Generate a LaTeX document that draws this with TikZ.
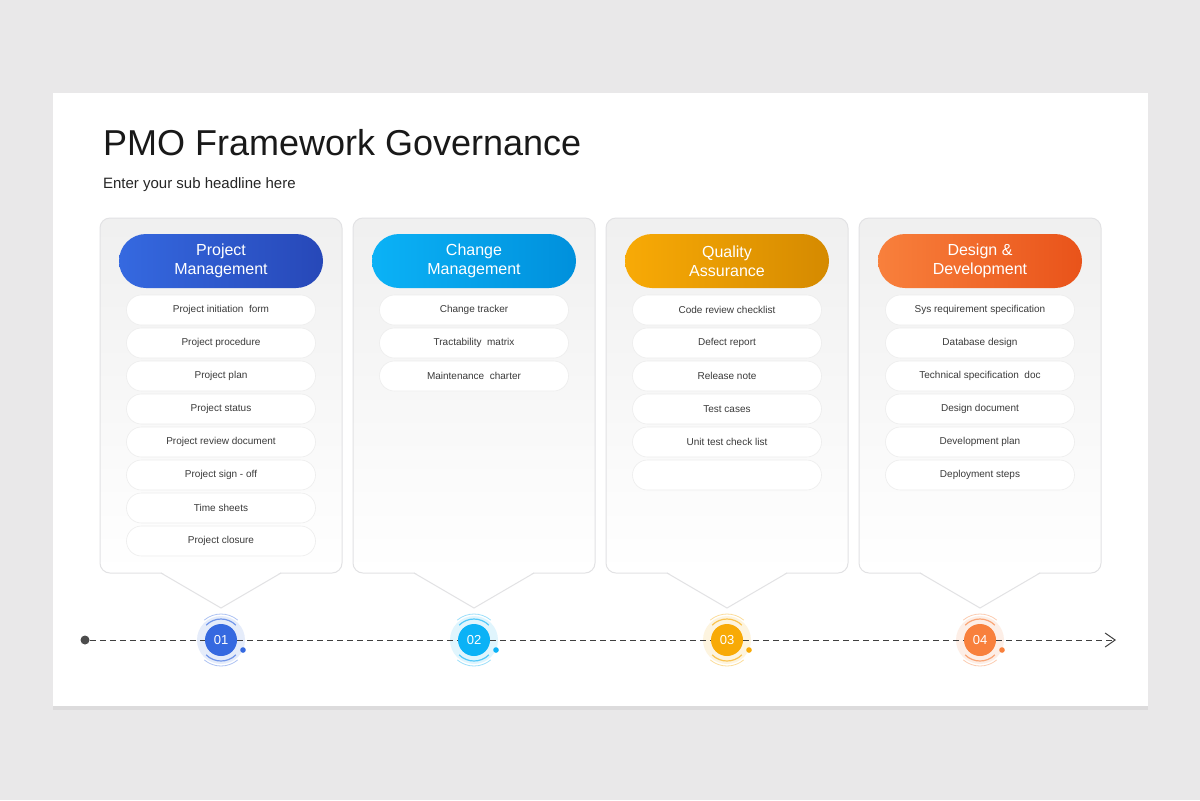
\documentclass[tikz,border=0pt]{standalone}
\usepackage{fontspec}
\setmainfont{Liberation Sans}
\usetikzlibrary{positioning, arrows.meta, shadows}
\definecolor{pageback}{HTML}{E9E8E9}
\definecolor{panelline}{HTML}{E2E2E4}
\definecolor{itemtext}{HTML}{3A3A3A}
\definecolor{bluea}{HTML}{3569E0}\definecolor{blueb}{HTML}{2748B8}
\definecolor{cyana}{HTML}{0BB2F6}\definecolor{cyanb}{HTML}{0090DC}
\definecolor{orga}{HTML}{F8AA06}\definecolor{orgb}{HTML}{D58A00}
\definecolor{reda}{HTML}{F8803C}\definecolor{redb}{HTML}{E9531A}
\tikzstyle{panel} = [draw=panelline, line width=0.5pt, top color=white!94!black, bottom color=white, rounded corners=5pt]
\tikzstyle{header} = [rectangle, rounded corners=13.5pt, minimum width=102pt, minimum height=27pt, text=white, align=center, font=\fontsize{8}{9.5}\selectfont]
\tikzstyle{item} = [rectangle, rounded corners=7.5pt, fill=white, draw=white!93!black, line width=0.3pt, minimum width=94.5pt, minimum height=15pt, text=itemtext, font=\fontsize{5}{6}\selectfont]
\tikzstyle{stepdot} = [circle, minimum size=16pt, inner sep=0pt, text=white, font=\fontsize{6.5}{7}\selectfont]
\tikzstyle{timeline} = [dashed, dash pattern=on 3pt off 2pt, line width=0.5pt, black!75]
\begin{document}
\begin{tikzpicture}[x=0.5pt, y=-0.5pt]
    \useasboundingbox (0,0) rectangle (1200,800);
    \fill [pageback] (0,0) rectangle (1200,800);
    \fill [white, drop shadow={opacity=0.12, shadow xshift=0pt, shadow yshift=-2pt}] (53,93) rectangle (1148,706);

    \node (title) [anchor=base west, font=\fontsize{18}{21}\selectfont, text=black!90] at (96,155) {PMO Framework Governance};
    \node (subtitle) [anchor=base west, font=\fontsize{7.5}{9}\selectfont, text=black!85] at (96,188) {Enter your sub headline here};

    % panels with pointers
    \foreach \x/\ca/\cb/\num/\head [count=\i] in {221/bluea/blueb/01/{Project\\Management},
                                                    474/cyana/cyanb/02/{Change\\Management},
                                                    727/orga/orgb/03/{Quality\\Assurance},
                                                    980/reda/redb/04/{Design \&\\Development}} {
        \draw [panel] (\x-121,218) rectangle (\x+121,573);
        \fill [white] (\x-60,572) -- (\x,608) -- (\x+60,572) -- cycle;
        \draw [panelline, line width=0.5pt] (\x-60,573) -- (\x,608) -- (\x+60,573);
        \node (head\i) [header, left color=\ca, right color=\cb] at (\x,261) {\head};
        \fill [\ca!25, opacity=0.5] (\x,640) circle (12pt);
        \draw [\ca!70, line width=0.6pt] (\x,640) ++(45:21) arc (45:135:21);
        \draw [\ca!70, line width=0.6pt] (\x,640) ++(225:21) arc (225:315:21);
        \draw [\ca!40, line width=0.4pt] (\x,640) ++(50:26) arc (50:130:26);
        \draw [\ca!40, line width=0.4pt] (\x,640) ++(230:26) arc (230:310:26);
        \node (step\i) [stepdot, fill=\ca] at (\x,640) {\num};
        \fill [\ca] (\x+22,650) circle (1.4pt);
    }

    % items
    \foreach \txt [count=\j] in {Project initiation\ \ form, Project procedure, Project plan, Project status,
                                 Project review document, Project sign - off, Time sheets, Project closure}
        \node (pm\j) [item] at (221,277+33*\j) {\txt};
    \foreach \txt [count=\j] in {Change tracker, Tractability\ \ matrix, Maintenance\ \ charter}
        \node (cm\j) [item] at (474,277+33*\j) {\txt};
    \foreach \txt [count=\j] in {Code review checklist, Defect report, Release note, Test cases, Unit test check list, {}}
        \node (qa\j) [item] at (727,277+33*\j) {\txt};
    \foreach \txt [count=\j] in {Sys requirement specification, Database design, Technical specification\ \ doc,
                                 Design document, Development plan, Deployment steps}
        \node (dd\j) [item] at (980,277+33*\j) {\txt};

    % timeline
    \node (start) [circle, fill=black!70, inner sep=0pt, minimum size=4.5pt] at (85,640) {};
    \coordinate (finish) at (1116,640);
    \draw [timeline] (start) -- (step1);
    \draw [timeline] (step1) -- (step2);
    \draw [timeline] (step2) -- (step3);
    \draw [timeline] (step3) -- (step4);
    \draw [timeline, -{Straight Barb[length=5pt, width=7pt]}] (step4) -- (finish);
\end{tikzpicture}
\end{document}
